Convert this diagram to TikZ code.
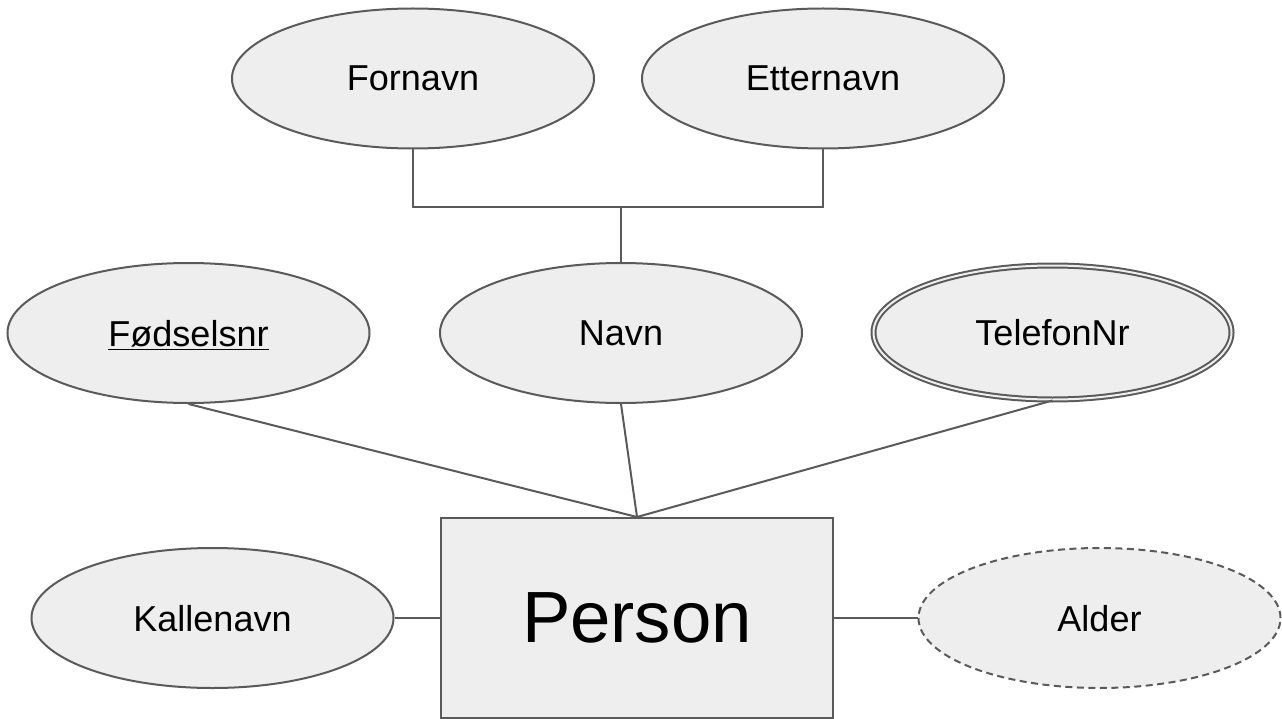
\documentclass[tikz,border=0pt]{standalone}
\usepackage{fontspec}
\setmainfont{Liberation Sans}
\usepackage{tikz}
\usetikzlibrary{positioning, shapes.geometric}
\definecolor{efill}{HTML}{EEEEEE}
\definecolor{eline}{HTML}{5A5A5A}

\begin{document}
\begin{tikzpicture}[
  attr/.style={ellipse,draw=eline,fill=efill,line width=0.04cm,inner sep=0pt,
    minimum width=7.24cm,minimum height=2.8cm,text depth=0pt,
    font=\fontsize{20.5}{24}\selectfont},
  multiattr/.style={attr,double=efill,double distance=0.04cm,
    minimum width=7.16cm,minimum height=2.68cm},
  derivattr/.style={attr,dash pattern=on 0.14cm off 0.09cm},
  entity/.style={rectangle,draw=eline,fill=efill,line width=0.04cm,
    minimum width=7.84cm,minimum height=4cm,font=\fontsize{41.3}{48}\selectfont},
  link/.style={draw=eline,line width=0.04cm}]
\useasboundingbox (0,0) rectangle (25.64,-14.38);
% Attributter
\foreach \n/\x/\y/\t in {fornavn/8.26/-1.57/Fornavn,etternavn/16.46/-1.57/Etternavn,
  fodsel/3.77/-6.66/\underline{Fødselsnr},navn/12.42/-6.66/Navn,kalle/4.25/-12.36/Kallenavn} {
  \node[attr] (\n) at (\x,\y) {\t};
}
\node[multiattr] (telefon) at (21.05,-6.65) {TelefonNr};
\node[derivattr] (alder) at (21.99,-12.36) {Alder};
% Entitet
\node[entity] (person) at (12.74,-12.36) {Person};
% Sammensatt attributt
\coordinate (ledd) at (navn.north |- 0,-4.14);
\draw[link] (fornavn.south) |- (ledd) -| (etternavn.south);
\draw[link] (navn.north) -- (ledd);
% Koblinger
\draw[link] (fodsel.south) -- (person.north);
\draw[link] (navn.south) -- (person.north);
\draw[link] (telefon.south) -- (person.north);
\draw[link] (kalle) -- (person);
\draw[link] (person) -- (alder);
\end{tikzpicture}
\end{document}
